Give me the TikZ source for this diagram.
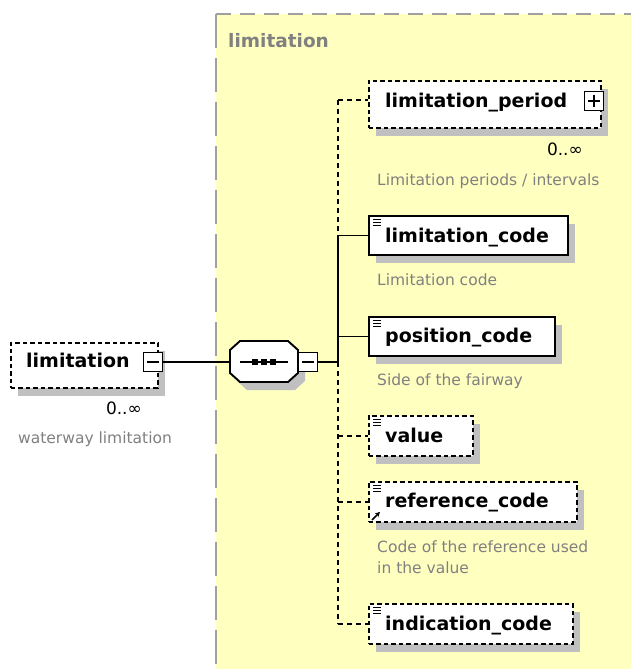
\documentclass[tikz,border=0pt]{standalone}
\usepackage{fontspec}
\setmainfont{DejaVu Sans}
\usetikzlibrary{shadows,arrows.meta}
\definecolor{ybg}{RGB}{255,255,192}
\definecolor{shd}{RGB}{192,192,192}
\definecolor{gtx}{RGB}{128,128,128}
\definecolor{bord}{RGB}{160,160,160}
\newcommand\leafmark[1]{%
  \foreach \k in {0,1,2}{\draw[line width=1pt] ([xshift=5pt,yshift={-(4.5+3*\k)*1pt}]#1.north west) -- ++(8pt,0pt);}}
\newcommand\minusmark[1]{\draw[line width=1.4pt] ([xshift=4pt]#1.west) -- ([xshift=-4pt]#1.east);}
\newcommand\plusmark[1]{\minusmark{#1}\draw[line width=1.4pt] ([yshift=-4pt]#1.north) -- ([yshift=4pt]#1.south);}
\begin{document}
\begin{tikzpicture}[x=1pt,y=-1pt,
  elbox/.style={draw=black, line width=1.9pt, fill=white, rectangle, inner sep=0pt, anchor=north west,
    drop shadow={shadow xshift=7pt, shadow yshift=-8pt, fill=shd, opacity=1}},
  optbox/.style={elbox, dash pattern=on 4.5pt off 3pt},
  pmbox/.style={draw=black, line width=1.5pt, fill=white, rectangle, minimum width=19pt, minimum height=19pt, inner sep=0pt},
  elname/.style={font=\fontsize{19}{19}\selectfont\bfseries, anchor=base west, inner sep=0pt},
  desc/.style={font=\fontsize{15.5}{21}\selectfont, text=gtx, anchor=base west, inner sep=0pt},
  mult/.style={font=\fontsize{17}{17}\selectfont, anchor=base east, inner sep=0pt},
  ttl/.style={font=\fontsize{18.5}{18.5}\selectfont\bfseries, text=gtx, anchor=base west, inner sep=0pt},
  conn/.style={draw=black, line width=1.9pt},
  optconn/.style={conn, dash pattern=on 5pt off 4pt}
]
\useasboundingbox (0,0) rectangle (631,669);
\fill[white] (0,0) rectangle (631,669);
% complex type area
\fill[ybg] (216,14) rectangle (631,669);
\draw[bord, line width=2pt, dash pattern=on 15pt off 9pt] (216,14) -- (631,14);
\draw[bord, line width=2pt, dash pattern=on 34pt off 10pt] (216,14) -- (216,669);
\node[ttl] (title) at (228,48) {limitation};

% bus coordinates
\coordinate (bt) at (338,100);
\coordinate (bj) at (338,362);

% placeholder for the compositor
\node[inner sep=0pt, minimum width=68pt, minimum height=41pt] (seq) at (264,361.5) {};

% child boxes
\node[optbox, minimum width=232pt, minimum height=47pt] (lp) at (368,80) {};
\node[elbox, minimum width=199pt, minimum height=39pt] (lc) at (368,215) {};
\node[elbox, minimum width=186pt, minimum height=39pt] (pc) at (368,316) {};
\node[optbox, minimum width=104pt, minimum height=40pt] (val) at (368,415) {};
\node[optbox, minimum width=208pt, minimum height=40pt] (rc) at (368,481) {};
\node[optbox, minimum width=204pt, minimum height=40pt] (ic) at (368,603) {};

% connectors
\draw[optconn] (bt) -- (bt -| lp.west);
\draw[optconn] (bt) -- (bt |- lc.west);
\draw[conn] (bt |- lc.west) -- (lc.west);
\draw[conn] (bt |- lc.west) -- (bj);
\draw[conn] (bt |- pc.west) -- (pc.west);
\draw[optconn] (bj) -- (bj |- ic.west);
\draw[optconn] (bj |- val.west) -- (val.west);
\draw[optconn] (bj |- rc.west) -- (rc.west);
\draw[optconn] (bj |- ic.west) -- (ic.west);

% root element
\node[optbox, minimum width=147pt, minimum height=45pt] (root) at (10,342) {};
\node[elname] (roott) at (26,367) {limitation};
\node[pmbox] (rootm) at (153,362) {};
\minusmark{rootm}
\node[mult] (rootn) at (142,414) {0..∞};
\node[desc] (rootd) at (18,443) {waterway limitation};

% sequence compositor
\node[pmbox] (seqm) at (308,362) {};
\draw[conn] (rootm.east) -- (rootm.east -| seq.west);
\draw[conn] (seqm.east) -- (bj);
\fill[shd] (247,349) -- (295,349) -- (305,358) -- (305,381) -- (295,390) -- (247,390) -- (237,381) -- (237,358) -- cycle;
\draw[line width=1.9pt, fill=white] (240,341) -- (288,341) -- (298,350) -- (298,373) -- (288,382) -- (240,382) -- (230,373) -- (230,350) -- cycle;
\draw[line width=1.5pt] (240,362) -- (288,362);
\foreach \dx in {255,264,273}{\fill (\dx-3,359) rectangle (\dx+3,365);}
\node[pmbox] (seqm2) at (308,362) {};
\minusmark{seqm2}

% limitation_period
\node[elname] (lpt) at (385,107) {limitation\_period};
\node[pmbox] (lpp) at (594,101) {};
\plusmark{lpp}
\node[mult] (lpn) at (583,155) {0..∞};
\node[desc] (lpd) at (377,185) {Limitation periods / intervals};

% limitation_code
\leafmark{lc}
\node[elname] (lct) at (385,242) {limitation\_code};
\node[desc] (lcd) at (377,285) {Limitation code};

% position_code
\leafmark{pc}
\node[elname] (pct) at (385,342) {position\_code};
\node[desc] (pcd) at (377,385) {Side of the fairway};

% value
\leafmark{val}
\node[elname] (valt) at (385,442) {value};

% reference_code
\leafmark{rc}
\draw[line width=1.6pt, -{Stealth[length=5pt,width=5pt]}] ([xshift=4pt,yshift=3pt]rc.south west) -- ++(8pt,8pt);
\node[elname] (rct) at (385,507) {reference\_code};
\node[desc] (rcd) at (377,552) {Code of the reference used};
\node[desc] (rcd2) at (377,573) {in the value};

% indication_code
\leafmark{ic}
\node[elname] (ict) at (385,630) {indication\_code};
\end{tikzpicture}
\end{document}
